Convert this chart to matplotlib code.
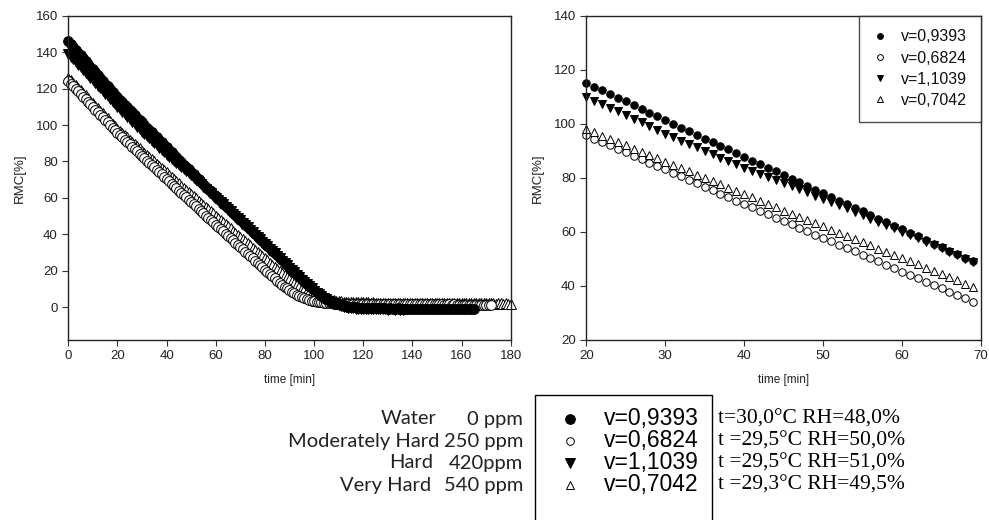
import matplotlib
matplotlib.use("Agg")
import matplotlib.pyplot as plt
from matplotlib.lines import Line2D

# ---------------- data ----------------
labels = ["v=0,9393", "v=0,6824", "v=1,1039", "v=0,7042"]
water_names = ["Water", "Moderately Hard", "Hard", "Very Hard"]
water_ppm = ["0 ppm", "250 ppm", "420ppm", "540 ppm"]
conditions = ["t=30,0°C RH=48,0%", "t =29,5°C RH=50,0%",
              "t =29,5°C RH=51,0%", "t =29,3°C RH=49,5%"]

# right panel: minutes 20..69
zoom_time = list(range(20, 70))
fc_mid = [115.2, 113.8, 112.4, 111.0, 109.7, 108.3, 106.9, 105.5, 104.1, 102.8,
          101.4, 100.0, 98.6, 97.3, 95.9, 94.5, 93.2, 91.8, 90.5, 89.1,
          87.8, 86.4, 85.1, 83.7, 82.4, 81.0, 79.7, 78.3, 77.0, 75.6,
          74.3, 72.9, 71.6, 70.3, 68.9, 67.6, 66.2, 64.9, 63.6, 62.2,
          60.9, 59.6, 58.3, 56.9, 55.6, 54.3, 53.0, 51.7, 50.4, 49.2]
oc_mid = [95.8, 94.5, 93.2, 92.0, 90.7, 89.4, 88.2, 86.9, 85.6, 84.3,
          83.1, 81.8, 80.5, 79.3, 78.0, 76.7, 75.4, 74.2, 72.9, 71.6,
          70.4, 69.1, 67.8, 66.5, 65.3, 64.0, 62.8, 61.5, 60.3, 59.0,
          57.8, 56.5, 55.3, 54.0, 52.8, 51.6, 50.3, 49.1, 47.8, 46.6,
          45.3, 44.1, 42.9, 41.6, 40.4, 39.1, 37.9, 36.7, 35.4, 34.2]
dt_mid = [110.0, 108.6, 107.2, 105.9, 104.6, 103.2, 101.8, 100.5, 99.1, 97.8,
          96.4, 95.1, 93.8, 92.6, 91.3, 90.0, 88.8, 87.5, 86.3, 85.0,
          83.8, 82.6, 81.5, 80.3, 79.2, 78.0, 76.9, 75.7, 74.6, 73.4,
          72.3, 71.0, 69.8, 68.7, 67.4, 66.2, 64.9, 63.7, 62.6, 61.3,
          60.1, 58.9, 57.7, 56.4, 55.1, 53.9, 52.6, 51.4, 50.1, 49.0]
ot_mid = [98.0, 96.8, 95.6, 94.4, 93.2, 92.0, 90.8, 89.6, 88.4, 87.2,
          86.0, 84.8, 83.6, 82.4, 81.2, 80.0, 78.8, 77.6, 76.4, 75.2,
          74.0, 72.8, 71.6, 70.4, 69.1, 67.9, 66.7, 65.5, 64.4, 63.2,
          62.0, 60.8, 59.7, 58.5, 57.3, 56.1, 55.0, 53.8, 52.6, 51.5,
          50.3, 49.1, 48.0, 46.8, 45.6, 44.5, 43.3, 42.1, 40.9, 39.7]

# left panel: minutes 0..19
fc_start = [146.0, 144.4, 142.9, 141.3, 139.8, 138.2, 136.7, 135.1, 133.6, 132.0,
            130.5, 128.9, 127.4, 125.8, 124.3, 122.7, 121.2, 119.6, 118.1, 116.6]
oc_start = [124.0, 122.6, 121.2, 119.8, 118.4, 117.0, 115.5, 114.1, 112.7, 111.3,
            109.9, 108.5, 107.1, 105.7, 104.3, 102.9, 101.5, 100.1, 98.6, 97.2]
dt_start = [139.0, 137.5, 136.1, 134.6, 133.2, 131.7, 130.3, 128.8, 127.4, 125.9,
            124.5, 123.0, 121.6, 120.1, 118.7, 117.2, 115.8, 114.3, 112.9, 111.4]
ot_start = [126.0, 124.6, 123.2, 121.8, 120.4, 119.0, 117.6, 116.2, 114.8, 113.4,
            112.0, 110.6, 109.2, 107.8, 106.4, 105.0, 103.6, 102.2, 100.8, 99.4]

# left panel: minutes 70..end
fc_end = [47.9, 46.6, 45.3, 44.0, 42.7, 41.4, 40.1, 38.8, 37.5, 36.2,
          34.9, 33.6, 32.3, 31.0, 29.7, 28.4, 27.1, 25.8, 24.5, 23.2,
          21.9, 20.6, 19.3, 18.0, 16.7, 15.4, 14.1, 12.8, 11.6, 10.4,
          9.2, 8.1, 7.1, 6.1, 5.2, 4.4, 3.7, 3.0, 2.4, 1.9,
          1.5, 1.1, 0.8, 0.5, 0.3, 0.1, 0.0, -0.1, -0.2, -0.3,
          -0.4, -0.5, -0.5, -0.6, -0.5, -0.6, -0.7, -0.6, -0.7, -0.7,
          -0.8, -0.7, -0.8, -0.8, -0.7, -0.8, -0.9, -0.8, -0.8, -0.9,
          -0.8, -0.9, -0.9, -0.8, -0.9, -0.9, -1.0, -0.9, -0.9, -1.0,
          -0.9, -1.0, -1.0, -0.9, -1.0, -1.0, -1.0, -0.9, -1.0, -1.0,
          -1.0, -1.0, -1.1, -1.0, -1.0, -1.1]
dt_end = [47.7, 46.4, 45.1, 43.8, 42.5, 41.2, 39.9, 38.6, 37.3, 36.0,
          34.7, 33.4, 32.1, 30.8, 29.5, 28.2, 26.9, 25.6, 24.3, 23.0,
          21.7, 20.4, 19.1, 17.8, 16.5, 15.2, 13.9, 12.7, 11.5, 10.3,
          9.1, 8.0, 7.0, 6.0, 5.1, 4.3, 3.5, 2.8, 2.2, 1.6,
          1.1, 0.7, 0.3, 0.0, -0.3, -0.5, -0.7, -0.8, -0.9, -1.0,
          -1.0, -1.1, -1.1, -1.2, -1.1, -1.2, -1.2, -1.1, -1.2, -1.2,
          -1.3, -1.2, -1.2, -1.3, -1.2, -1.3, -1.3]
oc_end = [33.0, 31.7, 30.5, 29.2, 28.0, 26.8, 25.5, 24.3, 23.1, 21.8,
          20.6, 19.4, 18.2, 17.0, 15.8, 14.6, 13.5, 12.4, 11.3, 10.3,
          9.3, 8.4, 7.6, 6.8, 6.1, 5.5, 4.9, 4.4, 4.0, 3.6,
          3.3, 3.0, 2.8, 2.6, 2.4, 2.3, 2.2, 2.1, 2.0, 2.0,
          1.9, 1.9, 1.9, 1.8, 1.9, 1.8, 1.8, 1.8, 1.7, 1.8,
          1.8, 1.7, 1.7, 1.8, 1.7, 1.7, 1.7, 1.6, 1.7, 1.7,
          1.7, 1.6, 1.7, 1.6, 1.6, 1.7, 1.6, 1.6, 1.6, 1.6,
          1.6, 1.5, 1.6, 1.6, 1.5, 1.6, 1.5, 1.5, 1.5, 1.5,
          1.5, 1.5, 1.5, 1.4, 1.5, 1.5, 1.4, 1.5, 1.4, 1.4,
          1.4, 1.4, 1.4, 1.4, 1.4, 1.3, 1.4, 1.3, 1.3, 1.3,
          1.3, 1.3, 1.3]
ot_end = [38.5, 37.4, 36.2, 35.0, 33.9, 32.7, 31.5, 30.4, 29.2, 28.0,
          26.9, 25.7, 24.5, 23.4, 22.2, 21.0, 19.9, 18.8, 17.7, 16.6,
          15.5, 14.5, 13.5, 12.5, 11.6, 10.7, 9.9, 9.1, 8.4, 7.7,
          7.1, 6.5, 6.0, 5.5, 5.1, 4.7, 4.4, 4.1, 3.8, 3.6,
          3.4, 3.2, 3.1, 3.0, 2.9, 2.8, 2.7, 2.7, 2.7, 2.6,
          2.6, 2.6, 2.6, 2.5, 2.6, 2.5, 2.5, 2.5, 2.5, 2.4,
          2.5, 2.4, 2.4, 2.5, 2.4, 2.4, 2.4, 2.3, 2.4, 2.4,
          2.3, 2.4, 2.3, 2.3, 2.3, 2.3, 2.3, 2.2, 2.3, 2.3,
          2.3, 2.2, 2.2, 2.3, 2.2, 2.2, 2.2, 2.2, 2.2, 2.2,
          2.1, 2.2, 2.2, 2.1, 2.2, 2.1, 2.1, 2.2, 2.1, 2.1,
          2.1, 2.1, 2.1, 2.1, 2.0, 2.1, 2.1, 2.0, 2.1, 2.0,
          2.0]

full_fc = fc_start + fc_mid + fc_end
full_oc = oc_start + oc_mid + oc_end
full_dt = dt_start + dt_mid + dt_end
full_ot = ot_start + ot_mid + ot_end

# ---------------- style ----------------
plt.rcParams['font.family'] = ['Liberation Sans', 'DejaVu Sans']
W, H = 989, 520
fig = plt.figure(figsize=(W / 100, H / 100), dpi=100)
fig.patch.set_facecolor('white')


def fx(px):
    return px / W


def fy(py):
    return 1 - py / H


styles = [
    dict(marker='o', mfc='black', mec='black'),
    dict(marker='o', mfc='white', mec='black'),
    dict(marker='v', mfc='black', mec='black'),
    dict(marker='^', mfc='white', mec='black'),
]


def style_axes(ax):
    for s in ax.spines.values():
        s.set_color('#222222')
        s.set_linewidth(1.0)
    ax.tick_params(direction='out', length=4, width=0.8, color='#333333',
                   labelsize=9.5, labelcolor='#222222', top=False, right=False)


# left panel
axL = fig.add_axes([fx(68.3), fy(340), fx(510.7 - 68.3), (340 - 15.7) / H])
left_series = [full_fc, full_oc, full_dt, full_ot]
order = [3, 1, 2, 0]
for i in order:
    y = left_series[i]
    x = list(range(len(y)))
    axL.plot(x, y, linestyle='none', markersize=7.0, markeredgewidth=0.7,
             clip_on=False, **styles[i])
axL.set_xlim(0, 180)
axL.set_ylim(-18, 160)
axL.set_xticks(range(0, 181, 20))
axL.set_yticks(range(0, 161, 20))
axL.set_ylabel("RMC[%]", fontsize=9.5, color='#222222', labelpad=7)
axL.set_xlabel("time [min]", fontsize=8.5, color='#222222', labelpad=8)
style_axes(axL)

# right panel
axR = fig.add_axes([fx(586.3), fy(340), fx(981 - 586.3), (340 - 15.7) / H])
right_series = [fc_mid, oc_mid, dt_mid, ot_mid]
for i, y in enumerate(right_series):
    axR.plot(zoom_time, y, linestyle='none', markersize=5.4,
             markeredgewidth=0.7, clip_on=False, **styles[i])
axR.set_xlim(20, 70)
axR.set_ylim(20, 140)
axR.set_xticks(range(20, 71, 10))
axR.set_yticks(range(20, 141, 20))
axR.set_ylabel("RMC[%]", fontsize=9.5, color='#222222', labelpad=7)
axR.set_xlabel("time [min]", fontsize=8.5, color='#222222', labelpad=8)
style_axes(axR)

leg_handles = [Line2D([], [], linestyle='none', markersize=4.2,
                      markeredgewidth=0.7, **styles[i]) for i in range(4)]
leg = axR.legend(leg_handles, labels, loc='upper right', fontsize=11.5,
                 frameon=True, fancybox=False, edgecolor='#222222',
                 borderaxespad=0, handlelength=0.9, handletextpad=0.9,
                 labelspacing=0.39, borderpad=0.85)
leg.get_frame().set_linewidth(1.0)
for t in leg.get_texts():
    t.set_color('#111111')

# ---------------- bottom table ----------------
row_y = [419, 441, 463, 485]
name_end = [437, 439, 433, 431]
for i in range(4):
    fig.text(fx(name_end[i]), fy(row_y[i]), water_names[i], ha='right',
             va='center', fontsize=14.5, family=['Lato', 'DejaVu Sans'],
             color='#222222')
    fig.text(fx(523), fy(row_y[i]), water_ppm[i], ha='right', va='center',
             fontsize=14.5, family=['Lato', 'DejaVu Sans'], color='#222222')
    fig.text(fx(604), fy(row_y[i]), labels[i], ha='left', va='center',
             fontsize=16.5, color='black')
    fig.text(fx(718), fy(row_y[i]), conditions[i], ha='left', va='center',
             fontsize=15.5, family=['Liberation Serif', 'DejaVu Serif'],
             color='black')
    fig.add_artist(Line2D([fx(570)], [fy(row_y[i])], linestyle='none',
                          markersize=[7.0, 5.5, 6.5, 6.0][i],
                          markeredgewidth=0.7, transform=fig.transFigure,
                          **styles[i]))

fig.add_artist(Line2D([fx(535), fx(535), fx(712), fx(712)],
                      [0, fy(395), fy(395), 0], color='black', linewidth=1.0,
                      transform=fig.transFigure))

fig.savefig("out.png", dpi=100, facecolor='white')
